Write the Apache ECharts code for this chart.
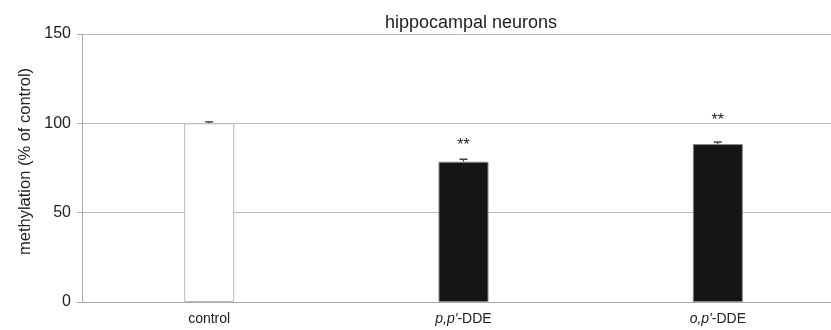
<!DOCTYPE html>
<html><head><meta charset="utf-8">
<script src="https://cdn.jsdelivr.net/npm/echarts@6/dist/echarts.min.js"></script>
<style>html,body{margin:0;padding:0;background:#fff;overflow:hidden;width:831px;height:330px}#c{width:845px;height:330px}</style>
</head><body><div id="c"></div>
<script>
const categories = ['control', 'p,p\'-DDE', 'o,p\'-DDE'];
const values = [100, 78.5, 88.4];
const errors = [0.8, 1.4, 1.1];
const sig = ['', '**', '**'];
const sigLevel = [null, 89.5, 103.5];
const yTicks = [0, 50, 100, 150];

const chart = echarts.init(document.getElementById('c'));
const FONT = '"Liberation Sans", Arial, sans-serif';
chart.setOption({
  animation: false,
  title: { text: 'hippocampal neurons', left: 466, top: 9, textAlign: 'center',
    textStyle: { fontFamily: FONT, fontSize: 18, fontWeight: 'normal', color: '#222' } },
  graphic: [{ type: 'text', x: 25, y: 161.5, rotation: Math.PI / 2,
    style: { text: 'methylation (% of control)', fontFamily: FONT, fontSize: 16.5, fill: '#222',
             align: 'center', verticalAlign: 'middle' } }],
  grid: { left: 82, right: 0, top: 34, bottom: 28, containLabel: false },
  xAxis: { type: 'category', data: categories,
    axisLine: { lineStyle: { color: '#aaa', width: 1 } },
    axisTick: { show: false },
    axisLabel: { margin: 10, fontFamily: FONT, fontSize: 14, color: '#222',
      formatter: function (v) {
        if (v === 'control') return v;
        const i = v.indexOf('-');
        return '{it|' + v.slice(0, i) + '}{n|' + v.slice(i) + '}';
      },
      rich: { it: { fontStyle: 'italic', fontFamily: FONT, fontSize: 14, color: '#222' },
              n: { fontFamily: FONT, fontSize: 14, color: '#222' } } } },
  yAxis: { type: 'value', min: yTicks[0], max: yTicks[yTicks.length - 1], interval: 50,
    axisLine: { show: true, lineStyle: { color: '#aaa' } },
    axisTick: { show: true, length: 5, lineStyle: { color: '#aaa' } },
    axisLabel: { margin: 11, fontFamily: FONT, fontSize: 16, color: '#222' },
    splitLine: { lineStyle: { color: '#bcbcbc', width: 1 } } },
  series: [
    { type: 'bar', barWidth: 50,
      data: values.map((v, i) => ({ value: v,
        itemStyle: i === 0 ? { color: '#fff', borderColor: '#bbb', borderWidth: 1 }
                           : { color: '#151515', borderColor: '#888', borderWidth: 1 } })) },
    { type: 'custom', z: 5,
      data: values.map((v, i) => [i, v, v + errors[i], sig[i], sigLevel[i] == null ? 0 : sigLevel[i]]),
      renderItem: function (params, api) {
        const x = api.value(0);
        const base = api.coord([x, api.value(1)]);
        const top = api.coord([x, api.value(2)]);
        const children = [
          { type: 'line', shape: { x1: base[0], y1: base[1], x2: top[0], y2: top[1] },
            style: { stroke: '#444', lineWidth: 1.2 } },
          { type: 'line', shape: { x1: top[0] - 4, y1: top[1], x2: top[0] + 4, y2: top[1] },
            style: { stroke: '#444', lineWidth: 1.5 } }
        ];
        const s = api.value(3);
        if (s) {
          const sp = api.coord([x, api.value(4)]);
          children.push({ type: 'text', x: sp[0], y: sp[1] + 4,
            style: { text: s, fontFamily: FONT, fontSize: 16, fill: '#222', align: 'center', verticalAlign: 'middle' } });
        }
        return { type: 'group', children: children };
      } }
  ]
});
</script></body></html>
